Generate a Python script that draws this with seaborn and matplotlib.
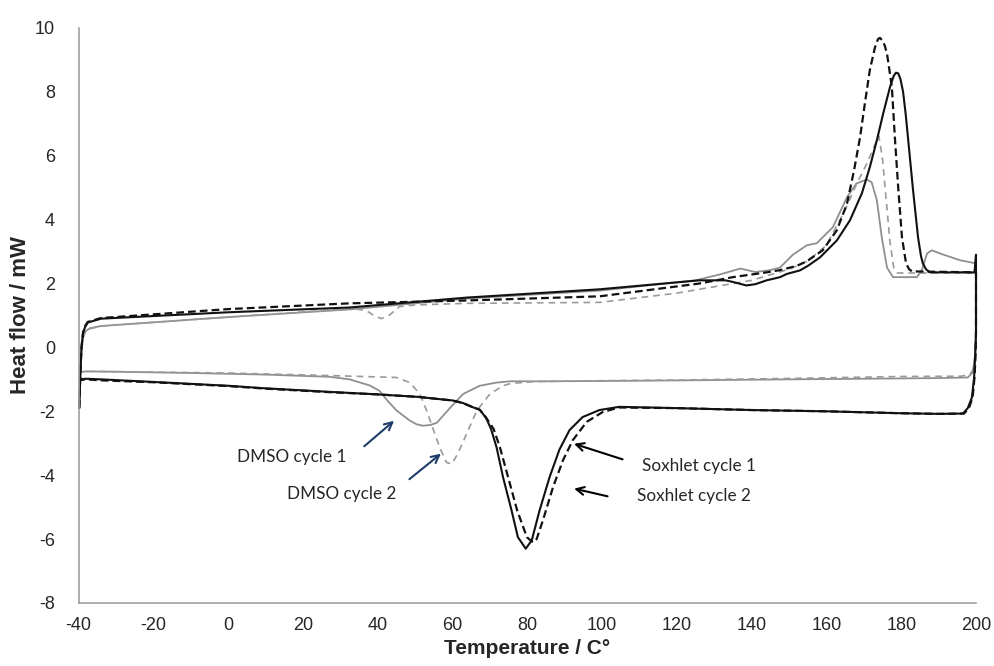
import numpy as np
import pandas as pd
import matplotlib
matplotlib.use("Agg")
import matplotlib.pyplot as plt
import seaborn as sns

# DSC curves (heating branch then cooling branch)
sox1_heat_T = [-39.8, -39.5, -39.2, -38.8, -38.2, -37.5, -34, 0, 32.5, 63.8, 99.4, 126, 133, 135, 138.6,
               141, 144, 147.6, 149.4, 152.9, 155, 158.3, 162.8, 166.3, 169.5, 171.6, 173.5, 175.2, 177,
               178, 178.6, 179.2, 179.8, 180.5, 181.2, 181.8, 183.1, 184.5, 185.3, 185.8, 186.6, 187.7, 199.6, 200]
sox1_heat_H = [-1.9, -0.8, 0.0, 0.45, 0.65, 0.78, 0.9, 1.1, 1.25, 1.56, 1.82, 2.1, 2.1, 2.05, 1.94,
               1.98, 2.1, 2.2, 2.3, 2.41, 2.55, 2.82, 3.35, 3.98, 4.83, 5.64, 6.49, 7.33, 8.15,
               8.5, 8.6, 8.58, 8.4, 8.0, 7.3, 6.58, 5.0, 3.45, 2.85, 2.63, 2.45, 2.35, 2.35, 2.9]
sox1_cool_T = [200, 199.8, 199.5, 198.9, 197.8, 196.5, 190, 180, 160, 140, 120, 104.6, 99.3, 94.8, 91.3,
               88.6, 86, 83.3, 81.2, 79.6, 77.5, 75.8, 73.5, 71.8, 70.3, 69, 67.3, 65.4, 62.8, 60, 55,
               51, 40, 27, 10, 0, -20, -34, -38, -39.5]
sox1_cool_H = [0.5, -0.2, -0.94, -1.57, -1.9, -2.07, -2.08, -2.06, -2.0, -1.96, -1.9, -1.86, -1.96, -2.18, -2.59,
               -3.2, -4.05, -5.1, -6.04, -6.3, -5.94, -5.1, -4.05, -3.13, -2.55, -2.21, -1.95, -1.87, -1.74, -1.66, -1.6,
               -1.55, -1.47, -1.39, -1.28, -1.2, -1.08, -1.0, -0.98, -1.0]

sox2_heat_T = [-39.8, -39.5, -39.2, -38.8, -38.2, -37.5, -34, 0, 32.5, 63.8, 99.4, 126, 135, 144, 147.6,
               152, 154.8, 159, 162.8, 165.5, 167.4, 169, 170.3, 171.6, 173, 173.8, 174.3, 174.9, 175.6, 176.2, 177.5,
               178.3, 179.2, 180.2, 181.3, 182.1, 182.9, 200]
sox2_heat_H = [-1.9, -0.8, 0.0, 0.45, 0.68, 0.8, 0.92, 1.2, 1.38, 1.47, 1.6, 2.0, 2.2, 2.35, 2.42,
               2.55, 2.7, 3.04, 3.67, 4.5, 5.55, 6.58, 7.65, 8.68, 9.4, 9.65, 9.69, 9.62, 9.45, 9.2, 8.15,
               6.58, 5.0, 3.45, 2.63, 2.45, 2.38, 2.35]
sox2_cool_T = [200, 199.9, 199.6, 199.1, 198.1, 196.8, 190, 180, 160, 140, 120, 104.6, 100.2, 95.9, 92.2,
               89.6, 86.9, 84.2, 82.5, 81.5, 79.9, 77.3, 74.9, 72.7, 71, 69, 67.3, 65.4, 62.8, 60, 55,
               51, 40, 27, 10, 0, -20, -34, -38, -39.5]
sox2_cool_H = [0.5, -0.2, -0.94, -1.57, -1.9, -2.07, -2.08, -2.06, -2.0, -1.96, -1.9, -1.88, -2.02, -2.33, -2.9,
               -3.52, -4.37, -5.41, -6.0, -6.1, -5.94, -5.1, -4.07, -3.13, -2.55, -2.2, -1.95, -1.87, -1.74, -1.66, -1.6,
               -1.55, -1.47, -1.4, -1.29, -1.21, -1.09, -1.03, -1.0, -1.02]

dmso1_heat_T = [-39.8, -39.5, -39.2, -38.8, -38.2, -37, -34, 0, 32.5, 63.8, 99.4, 125, 132, 137, 141,
                145, 147.6, 151, 154.8, 157.4, 161.7, 165.5, 168, 170.8, 172.1, 173.5, 174.8, 176.2,
                177.8, 184.2, 185.5, 186.9, 188.2, 190.4, 195.7, 200]
dmso1_heat_H = [-1.9, -0.9, -0.1, 0.3, 0.5, 0.6, 0.67, 0.95, 1.19, 1.53, 1.78, 2.1, 2.3, 2.47, 2.36,
                2.42, 2.5, 2.9, 3.2, 3.26, 3.76, 4.7, 5.13, 5.26, 5.17, 4.6, 3.45, 2.5,
                2.2, 2.2, 2.41, 2.94, 3.04, 2.94, 2.73, 2.63]
dmso1_cool_T = [200, 199.6, 199, 197.8, 190, 180, 150, 113, 100, 85, 75.3, 71.8, 67.3, 62.8, 59.3,
                55.8, 54, 52, 50.3, 48.6, 45.1, 42.5, 40.5, 37.9, 32.5, 27.2, 10, -10, -30, -38, -39.4]
dmso1_cool_H = [0.2, -0.45, -0.8, -0.94, -0.96, -0.97, -1.0, -1.04, -1.05, -1.06, -1.06, -1.1, -1.2, -1.46, -1.9,
                -2.36, -2.43, -2.45, -2.4, -2.29, -1.98, -1.65, -1.36, -1.19, -1.0, -0.92, -0.85, -0.8, -0.76, -0.75, -0.77]

dmso2_heat_T = [-39.8, -39.5, -39.2, -38.8, -38.2, -37, -34, 0, 25, 33.3, 37, 39, 41, 43, 45.9, 50,
                63.8, 99.4, 120, 140, 150, 155, 160, 165, 168, 171, 173, 174, 175, 176, 177, 178, 179, 200]
dmso2_heat_H = [-1.9, -0.9, -0.1, 0.3, 0.5, 0.58, 0.67, 0.95, 1.15, 1.22, 1.15, 1.0, 0.9, 1.0, 1.28, 1.33,
                1.38, 1.41, 1.7, 2.1, 2.45, 2.7, 3.2, 4.3, 5.1, 5.8, 6.35, 6.62, 5.9, 4.6, 3.3, 2.5, 2.33, 2.33]
dmso2_cool_T = [200, 199.7, 199.2, 198.3, 196, 180, 150, 120, 100, 82, 75.5, 73.5, 70, 66.5, 63.8, 61.4,
                59.8, 58.4, 56.6, 54.7, 53.1, 51.3, 48.6, 45, 27, 0, -30, -38, -39.4]
dmso2_cool_H = [0.3, -0.3, -0.7, -0.85, -0.9, -0.91, -0.97, -1.02, -1.04, -1.07, -1.13, -1.2, -1.46, -1.98, -2.7, -3.33,
                -3.65, -3.6, -3.14, -2.51, -1.98, -1.46, -1.1, -0.94, -0.88, -0.8, -0.76, -0.75, -0.77]

series_names = ["Soxhlet cycle 1", "Soxhlet cycle 2", "DMSO cycle 1", "DMSO cycle 2"]
x_ticks = [-40, -20, 0, 20, 40, 60, 80, 100, 120, 140, 160, 180, 200]
y_ticks = [-8, -6, -4, -2, 0, 2, 4, 6, 8, 10]

curves = {
    "Soxhlet cycle 1": (sox1_heat_T + sox1_cool_T, sox1_heat_H + sox1_cool_H),
    "Soxhlet cycle 2": (sox2_heat_T + sox2_cool_T, sox2_heat_H + sox2_cool_H),
    "DMSO cycle 1": (dmso1_heat_T + dmso1_cool_T, dmso1_heat_H + dmso1_cool_H),
    "DMSO cycle 2": (dmso2_heat_T + dmso2_cool_T, dmso2_heat_H + dmso2_cool_H),
}
styles = {
    "Soxhlet cycle 1": dict(color="#111111", lw=1.5),
    "Soxhlet cycle 2": dict(color="#111111", lw=1.6, dashes=(3.5, 1.8)),
    "DMSO cycle 1": dict(color="#8f8f8f", lw=1.3),
    "DMSO cycle 2": dict(color="#9a9a9a", lw=1.2, dashes=(4, 3)),
}

sns.set_style("white")
plt.rcParams["font.family"] = ["Liberation Sans", "DejaVu Sans"]
plt.rcParams["axes.unicode_minus"] = False

fig = plt.figure(figsize=(9.95, 6.66), dpi=100)
ax = fig.add_axes([0.0789, 0.0946, 0.902, 0.8634])

# grey ones first so black sits on top
for name in ["DMSO cycle 1", "DMSO cycle 2", "Soxhlet cycle 2", "Soxhlet cycle 1"]:
    T, H = curves[name]
    df = pd.DataFrame({"T": T, "H": H})
    st = styles[name]
    sns.lineplot(data=df, x="T", y="H", sort=False, estimator=None, ax=ax,
                 color=st["color"], linewidth=st["lw"])
    ln = ax.lines[-1]
    if "dashes" in st:
        ln.set_dashes(st["dashes"])
    ln.set_clip_on(False)

ax.set_xlim(-40, 200)
ax.set_ylim(-8, 10)
ax.set_xticks(x_ticks)
ax.set_yticks(y_ticks)
ax.set_xlabel("Temperature / C°", fontsize=15, fontweight="bold", labelpad=4)
ax.set_ylabel("Heat flow / mW", fontsize=16, fontweight="bold", labelpad=3)
ax.tick_params(axis="x", labelsize=13, direction="inout", length=8, color="#a0a0a0", pad=6)
ax.tick_params(axis="y", labelsize=13, direction="out", length=5, color="#a0a0a0", pad=12)
for s in ["top", "right"]:
    ax.spines[s].set_visible(False)
for s in ["left", "bottom"]:
    ax.spines[s].set_color("#a0a0a0")
    ax.spines[s].set_linewidth(1.2)

# labels with arrows
note_font = dict(fontsize=12.3, family=["Lato", "DejaVu Sans"], ha="center", va="center")
blue = "#1f3d6b"
ax.annotate("", xy=(44.95, -2.24), xytext=(35.85, -3.15),
            arrowprops=dict(arrowstyle="->", color=blue, lw=1.5, mutation_scale=14))
ax.annotate("", xy=(57.5, -3.27), xytext=(47.9, -4.18),
            arrowprops=dict(arrowstyle="->", color=blue, lw=1.5, mutation_scale=14))
ax.annotate("", xy=(91.8, -2.99), xytext=(106.2, -3.53),
            arrowprops=dict(arrowstyle="->", color="black", lw=1.5, mutation_scale=14))
ax.annotate("", xy=(91.8, -4.40), xytext=(102.2, -4.68),
            arrowprops=dict(arrowstyle="->", color="black", lw=1.5, mutation_scale=14))
ax.text(17.1, -3.43, series_names[2], **note_font)
ax.text(30.5, -4.59, series_names[3], **note_font)
ax.text(126.0, -3.71, series_names[0], **note_font)
ax.text(124.7, -4.65, series_names[1], **note_font)

fig.savefig("out.png", dpi=100)
